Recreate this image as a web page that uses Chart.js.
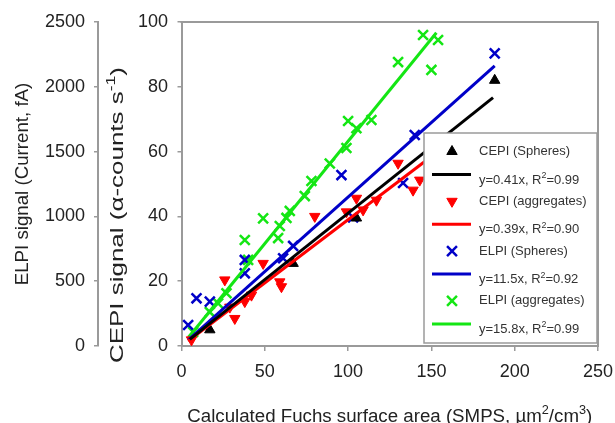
<!DOCTYPE html>
<html><head><meta charset="utf-8">
<script src="https://cdn.jsdelivr.net/npm/chart.js@4/dist/chart.umd.min.js"></script>
<style>html,body{margin:0;padding:0;background:#fff}#wrap{width:615px;height:423px}</style>
</head><body><div id="wrap"><canvas id="c" width="615" height="423"></canvas></div>
<script>
// ---- data ----
const xTicks = [0, 50, 100, 150, 200, 250];
const cepiTicks = [0, 20, 40, 60, 80, 100];
const elpiTicks = [0, 500, 1000, 1500, 2000, 2500];

const cepiSpheresX = [17, 67, 105, 188];
const cepiSpheresY = [5, 25.5, 39.5, 82];

const cepiAggX = [6, 26, 29, 32, 38, 42, 49, 59, 60, 80, 99, 105, 109, 117, 130, 139, 143];
const cepiAggY = [1.9, 20.4, 12, 8.5, 13.7, 15.7, 25.5, 19.8, 18.3, 40, 41.4, 45.6, 42, 45, 56.4, 48.1, 51.2];

const elpiSpheresX = [4, 9, 17, 38, 38, 61, 67, 96, 103, 133, 140, 188];
const elpiSpheresY = [162, 368, 342, 664, 561, 677, 772, 1319, 992, 1258, 1628, 2258];

const elpiAggX = [7, 17, 22, 27, 38, 40, 49, 58, 59, 63, 65, 74, 78, 89, 99, 100, 105, 114, 130, 145, 150, 154];
const elpiAggY = [108, 262, 329, 407, 818, 664, 985, 833, 926, 988, 1042, 1157, 1273, 1408, 1528, 1736, 1680, 1744, 2191, 2400, 2130, 2361];

// regression fits (slope, x-range)
const fitSlopes = [0.41, 0.39, 11.5, 15.8];
const fitRangeCepiSpheres = [5, 187];
const fitRangeCepiAgg = [4, 150];
const fitRangeElpiSpheres = [4, 188];
const fitRangeElpiAgg = [5, 153];

const seriesNames = ['CEPI (Spheres)', 'CEPI (aggregates)', 'ELPI (Spheres)', 'ELPI (aggregates)'];
const fitLabels = [['y=0.41x, R', '2', '=0.99'], ['y=0.39x, R', '2', '=0.90'], ['y=11.5x, R', '2', '=0.92'], ['y=15.8x, R', '2', '=0.99']];

const xTitle = [['Calculated Fuchs surface area (SMPS, µm', 0], ['2', 1], ['/cm', 0], ['3', 1], [')', 0]];
const elpiTitle = [['ELPI signal (Current, fA)', 0]];
const cepiTitle = [['CEPI signal (α-counts s', 0], ['-1', 1], [')', 0]];

// ---- styles ----
const COLORS = ['#000000', '#ff0000', '#0000c8', '#14e614'];
const AXIS = '#9a9a9a';
const TXT = '#222222';
const FONT = "'Liberation Sans', Arial, sans-serif";

const pts = (xs, ys) => xs.map((x, i) => ({x, y: ys[i]}));
const fit = (range, k) => range.map(x => ({x, y: k * x}));

const datasets = [
  {label: seriesNames[0] + ' fit', type: 'line', data: fit(fitRangeCepiSpheres, fitSlopes[0]), yAxisID: 'y', borderColor: COLORS[0], borderWidth: 3, pointRadius: 0, showLine: true, order: 0},
  {label: seriesNames[1] + ' fit', type: 'line', data: fit(fitRangeCepiAgg, fitSlopes[1]), yAxisID: 'y', borderColor: COLORS[1], borderWidth: 3, pointRadius: 0, showLine: true, order: 0},
  {label: seriesNames[2] + ' fit', type: 'line', data: fit(fitRangeElpiSpheres, fitSlopes[2]), yAxisID: 'y2', borderColor: COLORS[2], borderWidth: 3, pointRadius: 0, showLine: true, order: 0},
  {label: seriesNames[3] + ' fit', type: 'line', data: fit(fitRangeElpiAgg, fitSlopes[3]), yAxisID: 'y2', borderColor: COLORS[3], borderWidth: 3, pointRadius: 0, showLine: true, order: 0},
  {label: seriesNames[0], data: pts(cepiSpheresX, cepiSpheresY), yAxisID: 'y', pointStyle: 'triangle', pointRadius: 6, backgroundColor: COLORS[0], borderColor: COLORS[0], borderWidth: 1, order: 1},
  {label: seriesNames[1], data: pts(cepiAggX, cepiAggY), yAxisID: 'y', pointStyle: 'triangle', rotation: 180, pointRadius: 6, backgroundColor: COLORS[1], borderColor: COLORS[1], borderWidth: 1, order: 1},
  {label: seriesNames[2], data: pts(elpiSpheresX, elpiSpheresY), yAxisID: 'y2', pointStyle: 'crossRot', pointRadius: 7, borderColor: COLORS[2], borderWidth: 2.5, order: 1},
  {label: seriesNames[3], data: pts(elpiAggX, elpiAggY), yAxisID: 'y2', pointStyle: 'crossRot', pointRadius: 7, borderColor: COLORS[3], borderWidth: 2.5, order: 1}
];

function richWidth(ctx, parts, size) {
  const supSize = size * 0.68;
  return parts.map(p => { ctx.font = (p[1] ? supSize : size) + 'px ' + FONT; return ctx.measureText(p[0]).width; });
}
function drawRich(ctx, parts, size, x, y, align) {
  const supSize = size * 0.68;
  const widths = richWidth(ctx, parts, size);
  const total = widths.reduce((a, b) => a + b, 0);
  let cx = align === 'center' ? x - total / 2 : x;
  ctx.textAlign = 'left';
  ctx.textBaseline = 'alphabetic';
  parts.forEach((p, i) => {
    ctx.font = (p[1] ? supSize : size) + 'px ' + FONT;
    ctx.fillText(p[0], cx, p[1] ? y - size * 0.42 : y);
    cx += widths[i];
  });
}

const custom = {
  id: 'custom',
  beforeDatasetsDraw(chart) {
    const {ctx, chartArea: a} = chart;
    ctx.save();
    ctx.strokeStyle = AXIS; ctx.lineWidth = 2;
    ctx.beginPath(); ctx.moveTo(a.left - 1, a.top); ctx.lineTo(a.right, a.top); ctx.lineTo(a.right, a.bottom + 1); ctx.stroke();
    ctx.restore();
  },
  afterDatasetsDraw(chart) {
    const {ctx, chartArea: a} = chart;
    ctx.save();
    const bx = 424, by = 133, bw = a.right - 1 - bx, bh = 210;
    ctx.fillStyle = '#fff';
    ctx.fillRect(bx, by, bw, bh);
    ctx.strokeStyle = AXIS; ctx.lineWidth = 1.5;
    ctx.strokeRect(bx, by, bw, bh);
    const mx = 452, tx = 479;
    for (let i = 0; i < 4; i++) {
      const rowY = 151.5 + i * 49.8;
      const lineY = rowY + 23;
      const ds = chart.data.datasets[4 + i];
      ctx.fillStyle = ds.backgroundColor || ds.borderColor; ctx.strokeStyle = ds.borderColor; ctx.lineWidth = ds.borderWidth;
      Chart.helpers.drawPoint(ctx, {pointStyle: ds.pointStyle, rotation: ds.rotation || 0, radius: ds.pointRadius, borderWidth: ds.borderWidth}, mx, rowY);
      ctx.strokeStyle = COLORS[i]; ctx.lineWidth = 3;
      ctx.beginPath(); ctx.moveTo(432, lineY); ctx.lineTo(471, lineY); ctx.stroke();
      ctx.fillStyle = '#333';
      ctx.font = '13px ' + FONT; ctx.textAlign = 'left'; ctx.textBaseline = 'middle';
      ctx.fillText(seriesNames[i], tx, rowY);
      drawRich(ctx, fitLabels[i].map((t, j) => [t, j === 1 ? 1 : 0]), 13, tx, lineY + 9, 'left');
    }
    ctx.restore();
  },
  afterDraw(chart) {
    const {ctx, chartArea: a} = chart;
    ctx.save();
    ctx.fillStyle = TXT;
    drawRich(ctx, xTitle, 18.7, (a.left + a.right) / 2, 421.5, 'center');
    ctx.translate(28.4, (a.top + a.bottom) / 2);
    ctx.rotate(-Math.PI / 2);
    drawRich(ctx, elpiTitle, 18.7, 0, 0, 'center');
    ctx.restore();
    // CEPI title: stretched along its length as in the original figure
    ctx.save();
    ctx.fillStyle = TXT;
    const cw = richWidth(ctx, cepiTitle, 18.7).reduce((p, q) => p + q, 0);
    ctx.translate(122.5, 363);
    ctx.rotate(-Math.PI / 2);
    ctx.scale(296 / cw, 1);
    drawRich(ctx, cepiTitle, 18.7, 0, 0, 'left');
    ctx.restore();
  }
};

const tickFont = {family: FONT, size: 18};
const noPad = s => { s.paddingLeft = 0; s.paddingRight = 0; s.paddingTop = 0; s.paddingBottom = 0; };
new Chart(document.getElementById('c'), {
  type: 'scatter',
  data: {datasets},
  options: {
    responsive: false, animation: false, devicePixelRatio: 1,
    layout: {padding: {left: 0, right: 17, top: 22, bottom: 0}},
    plugins: {legend: {display: false}, tooltip: {enabled: false}},
    scales: {
      x: {type: 'linear', position: 'bottom', min: xTicks[0], max: xTicks[xTicks.length - 1],
        afterBuildTicks: s => { s.ticks = xTicks.map(v => ({value: v})); },
        afterFit: s => { s.height = 77; noPad(s); },
        ticks: {font: tickFont, color: TXT, padding: 10, callback: v => String(v)},
        grid: {drawOnChartArea: false, tickLength: 5, color: AXIS, lineWidth: 1.5},
        border: {color: AXIS, width: 2}},
      y: {type: 'linear', position: 'left', weight: 0, min: 0, max: 100,
        afterBuildTicks: s => { s.ticks = cepiTicks.map(v => ({value: v})); },
        afterFit: s => { s.width = 83.5; noPad(s); },
        ticks: {font: tickFont, color: TXT, padding: 9.5, callback: v => String(v)},
        grid: {drawOnChartArea: false, tickLength: 4, color: AXIS, lineWidth: 1.5},
        border: {color: AXIS, width: 2}},
      y2: {type: 'linear', position: 'left', weight: 1, min: 0, max: 2500,
        afterBuildTicks: s => { s.ticks = elpiTicks.map(v => ({value: v})); },
        afterFit: s => { s.width = 98; noPad(s); },
        ticks: {font: tickFont, color: TXT, padding: 9, callback: v => String(v)},
        grid: {drawOnChartArea: false, tickLength: 4, color: AXIS, lineWidth: 1.5},
        border: {color: AXIS, width: 2}}
    }
  },
  plugins: [custom]
});
</script>
</body></html>
